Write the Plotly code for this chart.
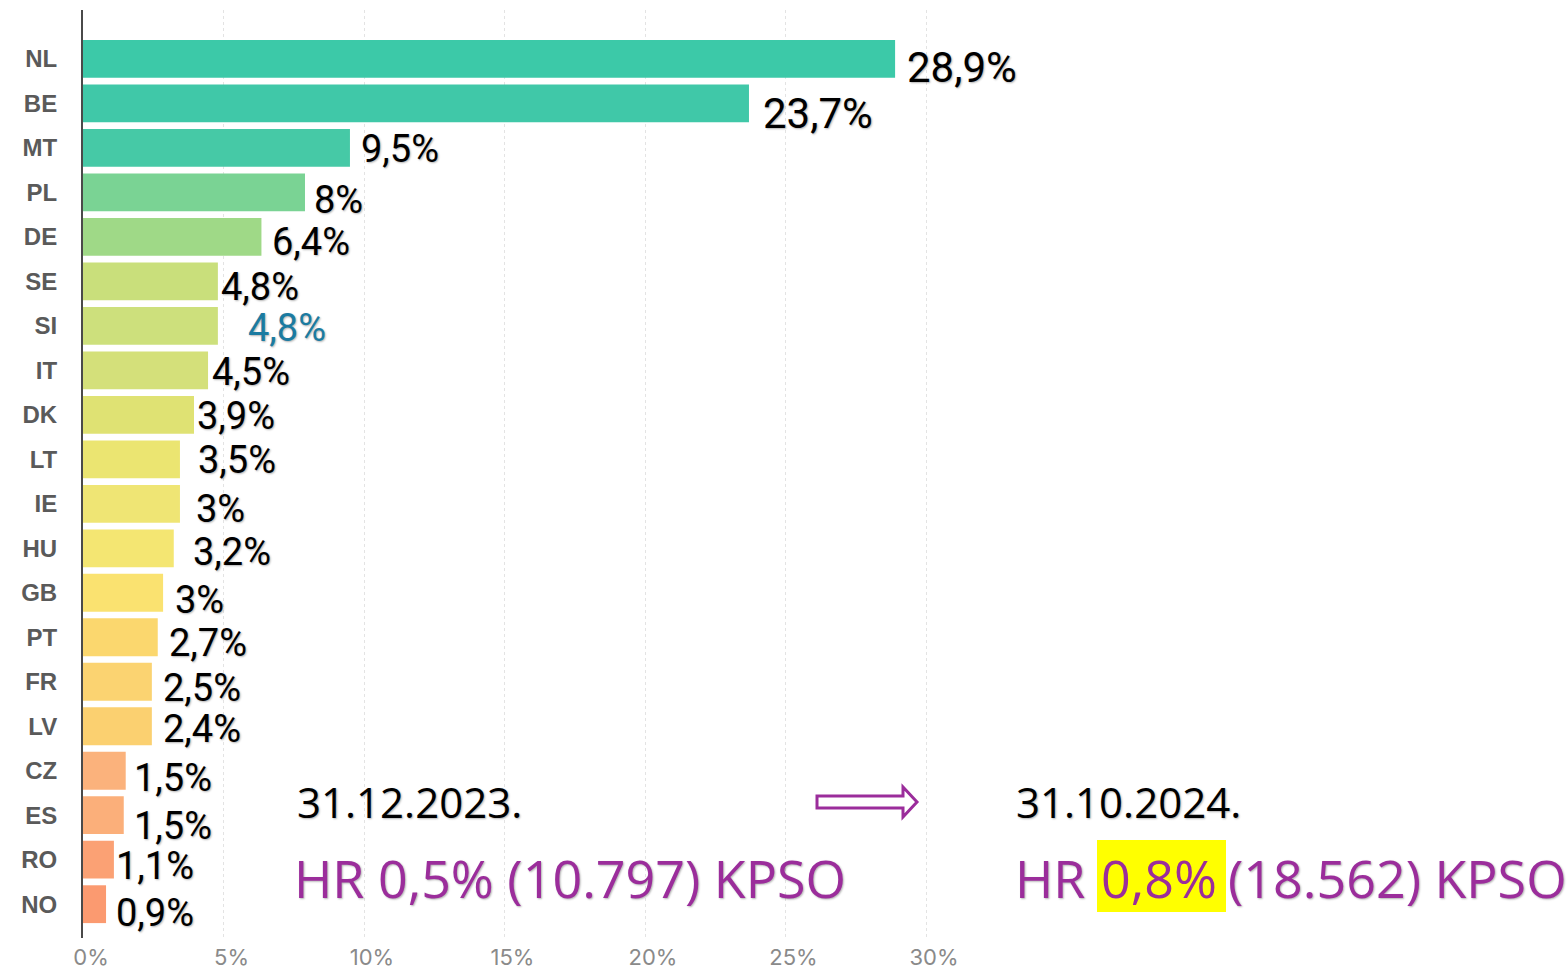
import plotly.graph_objects as go

# ---- data ----
countries = ["NL", "BE", "MT", "PL", "DE", "SE", "SI", "IT", "DK", "LT",
             "IE", "HU", "GB", "PT", "FR", "LV", "CZ", "ES", "RO", "NO"]
bar_values = [28.9, 23.7, 9.5, 7.9, 6.35, 4.8, 4.8, 4.45, 3.95, 3.45,
              3.45, 3.23, 2.85, 2.66, 2.45, 2.45, 1.52, 1.45, 1.1, 0.82]
value_labels = ["28,9%", "23,7%", "9,5%", "8%", "6,4%", "4,8%", "4,8%", "4,5%", "3,9%", "3,5%",
                "3%", "3,2%", "3%", "2,7%", "2,5%", "2,4%", "1,5%", "1,5%", "1,1%", "0,9%"]
x_tick_vals = [0, 5, 10, 15, 20, 25, 30]
x_tick_text = ["0%", "5%", "10%", "15%", "20%", "25%", "30%"]

date_before = "31.12.2023."
date_after = "31.10.2024."
hr_before = "HR 0,5% (10.797) KPSO"
hr_after_parts = ["HR", "0,8%", "(18.562) KPSO"]

# ---- styles ----
bar_colors = ["#3cc9a8", "#40c8a8", "#46c9a6", "#7ad394", "#9fd987", "#c9df7b", "#cde07c",
              "#d4e07a", "#dfe273", "#ebe571", "#efe574", "#f4e672", "#fae270", "#fbd76e",
              "#fbd371", "#fbd070", "#fbb27c", "#fbaf7a", "#fba174", "#fb9a70"]
label_dx = [10, 12, 9, 7, 9, 1, 28, 2, 1, 16, 14, 17, 10, 9, 9, 9, 6, 8, 0, 8]
label_dy = [9, 10, 1, 8, 5, 6, 2, 2, 1, 1, 5, 4, 7, 6, 6, 3, 7, 11, 6, 9]
label_sizes = [42, 42] + [38] * 18
purple = "#9b2d9b"
label_font = "Roboto, Liberation Sans, sans-serif"
txt_font = "Open Sans, Noto Sans, sans-serif"
shadow = "1px 1px 2px rgba(0,0,0,0.3)"

W_FIG, H_FIG = 1567, 970
L, R, T, B = 83, 67, 10, 32
PW = W_FIG - L - R
PH = H_FIG - T - B
PX_PER_UNIT = 28.1
n = len(countries)


def px_x(px):
    return (px - L) / PW


def px_y(py):
    return (H_FIG - B - py) / PH


fig = go.Figure()
fig.add_trace(go.Bar(
    x=bar_values, y=countries, orientation="h",
    marker=dict(color=bar_colors, line=dict(width=0)),
    width=0.85, hoverinfo="skip",
))

for i, (c, v, t) in enumerate(zip(countries, bar_values, value_labels)):
    is_si = c == "SI"
    fig.add_annotation(
        x=v, y=c, xref="x", yref="y", text=t, showarrow=False,
        xanchor="left", yanchor="middle",
        xshift=label_dx[i], yshift=-label_dy[i],
        font=dict(family=label_font, size=label_sizes[i],
                  color="#1b7ba1" if is_si else "#000000", shadow=shadow),
    )

# yellow highlight behind 0,8%
fig.add_shape(type="rect", xref="paper", yref="paper",
              x0=px_x(1097), x1=px_x(1226), y0=px_y(912), y1=px_y(840),
              fillcolor="#ffff00", line=dict(width=0), layer="above")


def add_text(px, py, text, size, color, shadow_on=True):
    fig.add_annotation(x=px_x(px), y=px_y(py), xref="paper", yref="paper", text=text,
                       showarrow=False, xanchor="left", yanchor="middle",
                       font=dict(family=txt_font, size=size, color=color,
                                 shadow=shadow if shadow_on else "none"))


add_text(295, 801, date_before, 42, "#000000")
add_text(292, 877, hr_before, 52, purple)
add_text(1014, 801, date_after, 42, "#000000")
add_text(1013, 877, hr_after_parts[0], 52, purple)
add_text(1099, 877, hr_after_parts[1], 52, purple, shadow_on=False)
add_text(1226, 877, hr_after_parts[2], 52, purple)

# hollow block arrow
ax0, ax1, ah = 817, 917, 903
ym, sh, hh = 802, 6, 15
pts = [(ax0, ym - sh), (ah, ym - sh), (ah, ym - hh), (ax1, ym), (ah, ym + hh), (ah, ym + sh), (ax0, ym + sh)]
path = "M " + " L ".join(f"{px_x(x):.5f},{px_y(y):.5f}" for x, y in pts) + " Z"
fig.add_shape(type="path", path=path, xref="paper", yref="paper",
              line=dict(color=purple, width=3), fillcolor="#ffffff")

fig.update_layout(
    width=W_FIG, height=H_FIG,
    margin=dict(l=L, r=R, t=T, b=B, pad=0, autoexpand=False),
    paper_bgcolor="#ffffff", plot_bgcolor="#ffffff",
    showlegend=False, bargap=0.15,
    xaxis=dict(range=[0, PW / PX_PER_UNIT], tickvals=x_tick_vals, ticktext=x_tick_text,
               showgrid=True, gridcolor="#e3e3e3", griddash="dot", gridwidth=1,
               zeroline=False, showline=False, ticks="", ticklabelshift=8,
               ticklabelstandoff=4, automargin=False,
               tickfont=dict(family="Inter, Open Sans, sans-serif", size=22, color="#8a8a8a")),
    yaxis=dict(categoryorder="array", categoryarray=countries,
               range=[n - 1 + 0.76, -1.1], showgrid=False, zeroline=False,
               showline=True, linecolor="#4a4a4a", linewidth=2, ticks="",
               ticklabelstandoff=19, automargin=False,
               tickfont=dict(family="Liberation Sans, Arial, sans-serif", size=24,
                             color="#5a5a5a", weight="bold")),
)

fig.write_html("out.html", post_script="document.body.style.margin='0';",
               config={"displayModeBar": False})
